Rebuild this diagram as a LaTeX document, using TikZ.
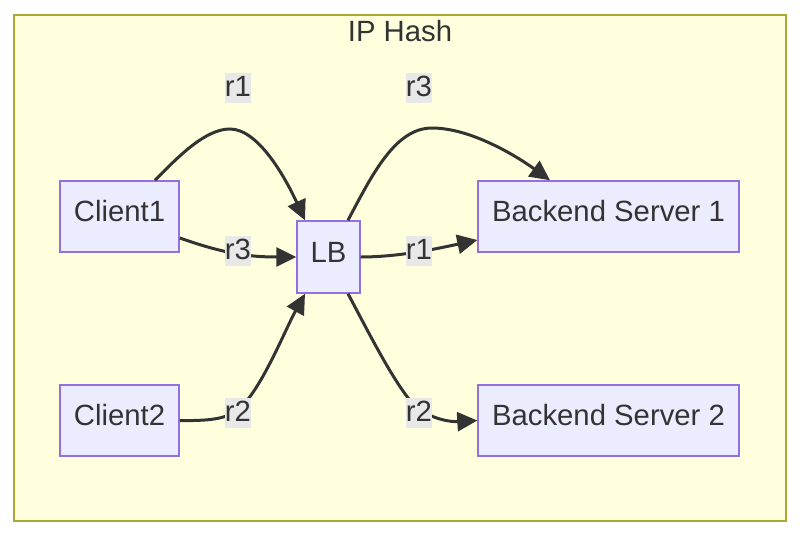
\documentclass[tikz,border=0pt]{standalone}
\usepackage{fontspec}
\setmainfont{Liberation Sans}
\usetikzlibrary{arrows.meta}

\definecolor{clusterfill}{HTML}{FFFFDE}
\definecolor{clusterline}{HTML}{AAAA33}
\definecolor{boxfill}{HTML}{ECECFF}
\definecolor{boxline}{HTML}{9370DB}
\definecolor{ink}{HTML}{333333}
\definecolor{labelfill}{HTML}{E8E8E8}

\tikzset{
  bigfont/.style={font=\fontsize{29.3}{34}\selectfont, text=ink},
  hostbox/.style={bigfont, draw=boxline, fill=boxfill, line width=1.5pt,
    inner xsep=14pt, minimum height=71pt, text height=21pt, text depth=11pt},
  reqlabel/.style={bigfont, fill=labelfill, inner xsep=0pt, inner ysep=0pt,
    text height=23.5pt, text depth=6.5pt},
  link/.style={draw=ink, line width=3pt, -{Triangle[length=20pt,width=19pt]}},
}

\begin{document}
\begin{tikzpicture}[x=1pt,y=-1pt]

\useasboundingbox[fill=white] (0,0) rectangle (800,536);

%Shape: Rectangle [cluster]
\draw [draw=clusterline, fill=clusterfill, line width=1.5pt] (14,15) rectangle (786,521);
% Text Node
\node [bigfont] (title) at (400,31) {IP Hash};

%Shape: Rectangle [hosts]
\node [hostbox] (client1) at (119.5,216.5) {Client1};
\node [hostbox] (client2) at (119.5,420.5) {Client2};
\node [hostbox, inner xsep=13.5pt, minimum height=72pt] (lb) at (328.5,257) {LB};
\node [hostbox] (server1) at (608.5,216.5) {Backend Server 1};
\node [hostbox] (server2) at (608.5,420.5) {Backend Server 2};

%Curves [links]
\draw [link] ([xshift=35.5pt]client1.north) .. controls (178,157) and (205,129) .. (230,129)
  .. controls (258,129) and (285,177) .. ([xshift=-23.5pt]lb.north);
\draw [link] ([yshift=-21.5pt]client1.east) .. controls (225,254) and (250,257) .. (lb.west);
\draw [link] (client2.east) .. controls (215,421) and (228,418) .. (240,408)
  .. controls (262,388) and (285,330) .. ([xshift=-23.5pt]lb.south);
\draw [link] ([xshift=19.5pt]lb.north) .. controls (372,175) and (395,128) .. (432,128)
  .. controls (470,128) and (515,155) .. ([xshift=-58.5pt]server1.north);
\draw [link] (lb.east) .. controls (400,257) and (440,248) .. ([yshift=-23.5pt]server1.west);
\draw [link] ([xshift=19.5pt]lb.south) .. controls (370,335) and (395,385) .. (415,406)
  .. controls (432,420) and (452,422) .. (server2.west);

% Text Node [labels]
\node [reqlabel] (lab1) at (238,88) {r1};
\node [reqlabel] (lab2) at (238,251) {r3};
\node [reqlabel] (lab3) at (238,413) {r2};
\node [reqlabel] (lab4) at (419,88) {r3};
\node [reqlabel] (lab5) at (419,251) {r1};
\node [reqlabel] (lab6) at (419,413) {r2};

\end{tikzpicture}
\end{document}
